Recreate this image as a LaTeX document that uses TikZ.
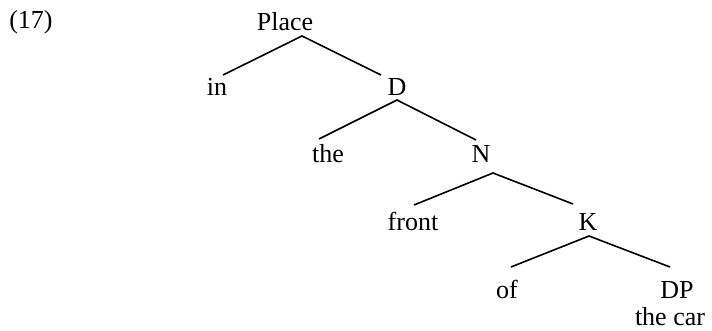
\documentclass[tikz,border=0pt]{standalone}
\usepackage{fontspec}
\setmainfont{Liberation Serif}
\begin{document}
\begin{tikzpicture}[x=1pt,y=-1pt,
  lab/.style={anchor=base,inner sep=0pt,outer sep=0pt,font=\fontsize{26}{30}\selectfont},
  branch/.style={line width=1.6pt}]
\useasboundingbox (0,0) rectangle (712,331);
\node[lab] (ex) at (31,29) {(17)};
\node[lab] (place) at (285,31) {Place};
\node[lab] (in) at (217,96) {in};
\node[lab] (D) at (397,96) {D};
\node[lab] (the) at (328,163) {the};
\node[lab] (N) at (481,163) {N};
\node[lab] (front) at (413,230) {front};
\node[lab] (K) at (588,230) {K};
\node[lab] (of) at (507,298) {of};
\node[lab] (DP) at (677,298) {DP};
\node[lab] (car) at (670,325) {the car};
\draw[branch] ([shift={(6,-21)}]in.base) -- ([shift={(17,5)}]place.base) -- ([shift={(-16,-21)}]D.base);
\draw[branch] ([shift={(-9,-24)}]the.base) -- ([shift={(0,4)}]D.base) -- ([shift={(-5,-23)}]N.base);
\draw[branch] ([shift={(1,-25)}]front.base) -- ([shift={(12,10)}]N.base) -- ([shift={(-15,-26)}]K.base);
\draw[branch] ([shift={(4,-31)}]of.base) -- ([shift={(1,6)}]K.base) -- ([shift={(-7,-31)}]DP.base);
\end{tikzpicture}
\end{document}
